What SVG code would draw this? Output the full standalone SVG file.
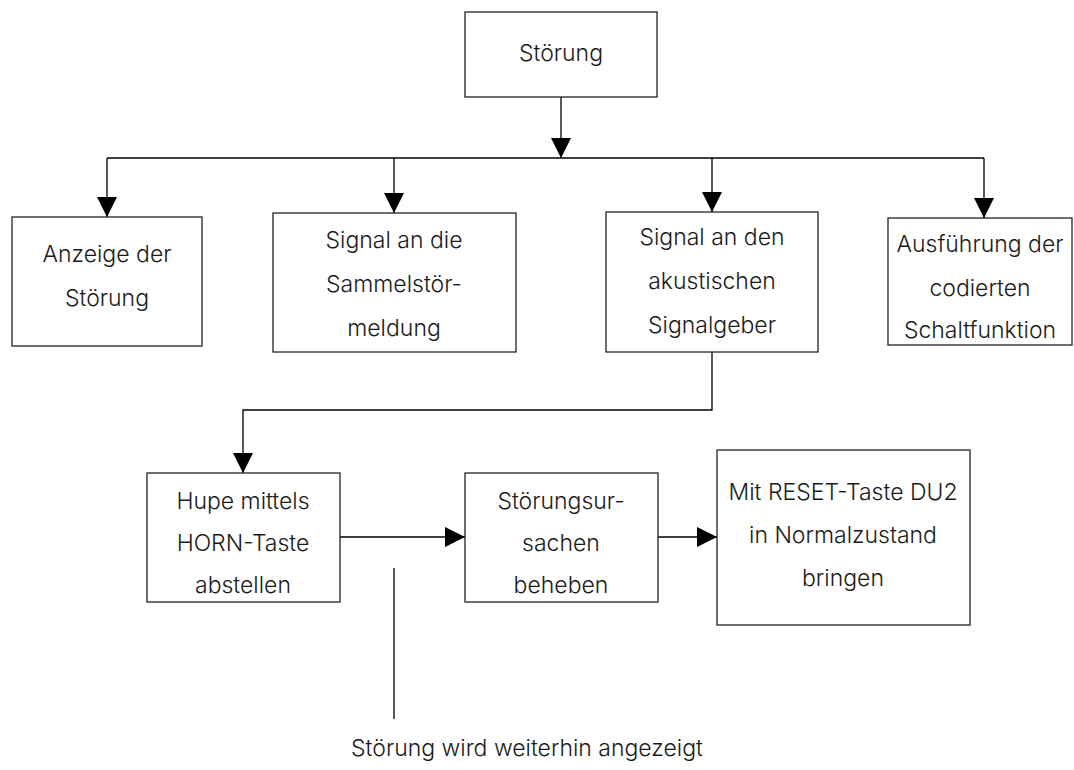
<svg xmlns="http://www.w3.org/2000/svg" width="1074" height="770" viewBox="0 0 1074 770">
<style>
.box{fill:#fff;stroke:#222;stroke-width:1.3}
.t{font-family:"Inter","Liberation Sans",Arial,sans-serif;font-weight:300;font-size:23px;fill:#1a1a1a;text-anchor:middle}
.c{fill:none;stroke:#000;stroke-width:1.3}
</style>
<defs>
<marker id="ah" markerUnits="userSpaceOnUse" markerWidth="20" markerHeight="20" viewBox="0 0 18 18" refX="18" refY="9" orient="auto">
<path d="M0,0 L18,9 L0,18 z" fill="#000"/>
</marker>
</defs>
<rect width="1074" height="770" fill="#fff"/>
<g id="connectors">
<path class="c" d="M561,97 V158" marker-end="url(#ah)"/>
<path class="c" d="M107,158 H984"/>
<path class="c" d="M107,158 V217" marker-end="url(#ah)"/>
<path class="c" d="M394,158 V213" marker-end="url(#ah)"/>
<path class="c" d="M712,158 V212" marker-end="url(#ah)"/>
<path class="c" d="M984,158 V218" marker-end="url(#ah)"/>
<path class="c" d="M712,352 V410 H243 V473" marker-end="url(#ah)"/>
<path class="c" d="M340,537 H465" marker-end="url(#ah)"/>
<path class="c" d="M658,537 H717" marker-end="url(#ah)"/>
<path class="c" d="M394,568 V719"/>
</g>
<g id="n-stoerung">
<rect class="box" x="465" y="12" width="192" height="85"/>
<text class="t" x="561" y="61">Störung</text>
</g>
<g id="n-anzeige">
<rect class="box" x="12" y="217" width="190" height="129"/>
<text class="t" x="107" y="262">Anzeige der</text>
<text class="t" x="107" y="306">Störung</text>
</g>
<g id="n-sammel">
<rect class="box" x="273" y="213" width="243" height="139"/>
<text class="t" x="394" y="248">Signal an die</text>
<text class="t" x="394" y="292">Sammelstör-</text>
<text class="t" x="394" y="336">meldung</text>
</g>
<g id="n-akustisch">
<rect class="box" x="606" y="212" width="212" height="140"/>
<text class="t" x="712" y="245">Signal an den</text>
<text class="t" x="712" y="289">akustischen</text>
<text class="t" x="712" y="333">Signalgeber</text>
</g>
<g id="n-ausfuehrung">
<rect class="box" x="888" y="218" width="184" height="127"/>
<text class="t" x="980" y="252">Ausführung der</text>
<text class="t" x="980" y="296">codierten</text>
<text class="t" x="980" y="338">Schaltfunktion</text>
</g>
<g id="n-hupe">
<rect class="box" x="147" y="473" width="193" height="129"/>
<text class="t" x="243" y="509">Hupe mittels</text>
<text class="t" x="243" y="551">HORN-Taste</text>
<text class="t" x="243" y="593">abstellen</text>
</g>
<g id="n-ursachen">
<rect class="box" x="465" y="473" width="193" height="129"/>
<text class="t" x="561" y="509">Störungsur-</text>
<text class="t" x="561" y="551">sachen</text>
<text class="t" x="561" y="593">beheben</text>
</g>
<g id="n-reset">
<rect class="box" x="717" y="450" width="253" height="175"/>
<text class="t" x="843" y="500">Mit RESET-Taste DU2</text>
<text class="t" x="843" y="543">in Normalzustand</text>
<text class="t" x="843" y="586">bringen</text>
</g>
<g id="label">
<text class="t" x="527" y="756">Störung wird weiterhin angezeigt</text>
</g>
</svg>
